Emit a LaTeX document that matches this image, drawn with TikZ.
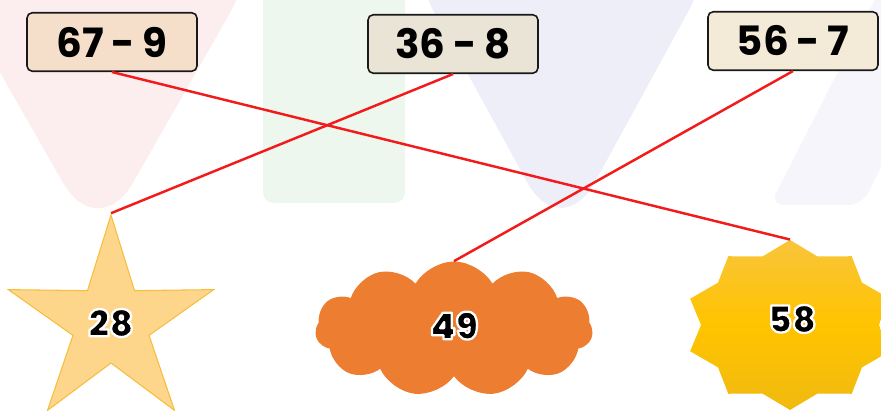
\documentclass[tikz,border=0pt]{standalone}
\usepackage{fontspec}
\setmainfont{Poppins}
\newfontfamily\exprfont{Poppins}[WordSpace=0.9]
\IfFontExistsTF{Poppins Black}{\newfontfamily\heavyfont{Poppins Black}}{%
  \IfFontExistsTF{Poppins ExtraBold}{\newfontfamily\heavyfont{Poppins ExtraBold}}{%
    \newfontfamily\heavyfont{Poppins}\def\heavyextra{\bfseries}}}
\providecommand{\heavyextra}{}
\usetikzlibrary{shapes.geometric,shapes.symbols}
\definecolor{wmpink}{HTML}{FCEEEE}
\definecolor{wmgreen}{HTML}{EEF7EE}
\definecolor{wmblue}{HTML}{EEEEF8}
\definecolor{boxa}{HTML}{F6DFCA}
\definecolor{boxb}{HTML}{E9E4D5}
\definecolor{boxc}{HTML}{F4EAD8}
\definecolor{starfill}{HTML}{FDD68B}
\definecolor{stardraw}{HTML}{F6BE3C}
\definecolor{cloudfill}{HTML}{ED7D31}
\definecolor{burstTop}{HTML}{F9C43A}
\definecolor{burstMid}{HTML}{FFC400}
\definecolor{burstBot}{HTML}{F0BA10}
\definecolor{linered}{HTML}{F21A1A}
\tikzset{
  expr/.style={draw=black!90, line width=0.9pt, rounded corners=3pt,
    minimum width=3.4cm, minimum height=1.17cm, inner sep=0pt,
    font=\fontsize{23}{25}\selectfont\exprfont\bfseries},
  answer/.style={font=\fontsize{21}{23}\selectfont\heavyfont\heavyextra, inner sep=0pt},
  match/.style={linered, line width=1.4pt},
}
% white rim round the numbers (fill + stroke)
\newcommand{\ans}[1]{\special{pdf:code q 1 1 1 RG 2 Tr 1.3 w 1 j}#1\special{pdf:code Q}}
\begin{document}
\begin{tikzpicture}[x=0.2mm, y=-0.2mm]
    \useasboundingbox (0,0) rectangle (881,411);

    % Watermark
    \fill[wmpink, rounded corners=40pt] (-70,-50) -- (98,244) -- (266,-50) -- cycle;
    \fill[wmgreen, rounded corners=6pt] (263,-20) rectangle (405,203);
    \fill[wmblue, rounded corners=40pt] (400,-50) -- (561,244) -- (722,-50) -- cycle;
    \fill[wmblue!60, rounded corners=8pt] (900,-50) -- (770,205) -- (862,205) -- (990,-50) -- cycle;

    % Expressions
    \foreach \x/\y/\nm/\txt/\col in {112/42/e67/{67 - 9}/boxa, 453/44/e36/{36 - 8}/boxb, 793/41/e56/{56 - 7}/boxc} {
        \node[expr, fill=\col] (\nm) at (\x,\y) {\txt}; % Boxes
      }

    % Answers
    \node[star, star points=5, star point ratio=2.7, minimum size=4.32cm, inner sep=0pt,
      fill=starfill, draw=stardraw, line width=0.6pt, answer] (s28) at (111,323) {\ans{28}};
    \node[cloud, cloud puffs=11, cloud puff arc=120, aspect=2.1, minimum width=5.55cm,
      minimum height=2.7cm, fill=cloudfill, answer] (c49) at (454,329) {\raisebox{4pt}{\ans{49}}};
    \node[star, star points=10, star point ratio=1.18, minimum size=3.4cm, inner sep=0pt,
      xscale=1.235, transform shape, top color=burstTop, bottom color=burstBot,
      middle color=burstMid] (b58) at (790,325) {};
    \node[answer] (n58) at (792,319) {\ans{58}};

    % Matches
    \draw[match] (e67.south) -- (b58.north);
    \draw[match] (e36.south) -- (s28.north);
    \draw[match] (e56.south) -- (c49.north);
  \end{tikzpicture}
\end{document}
